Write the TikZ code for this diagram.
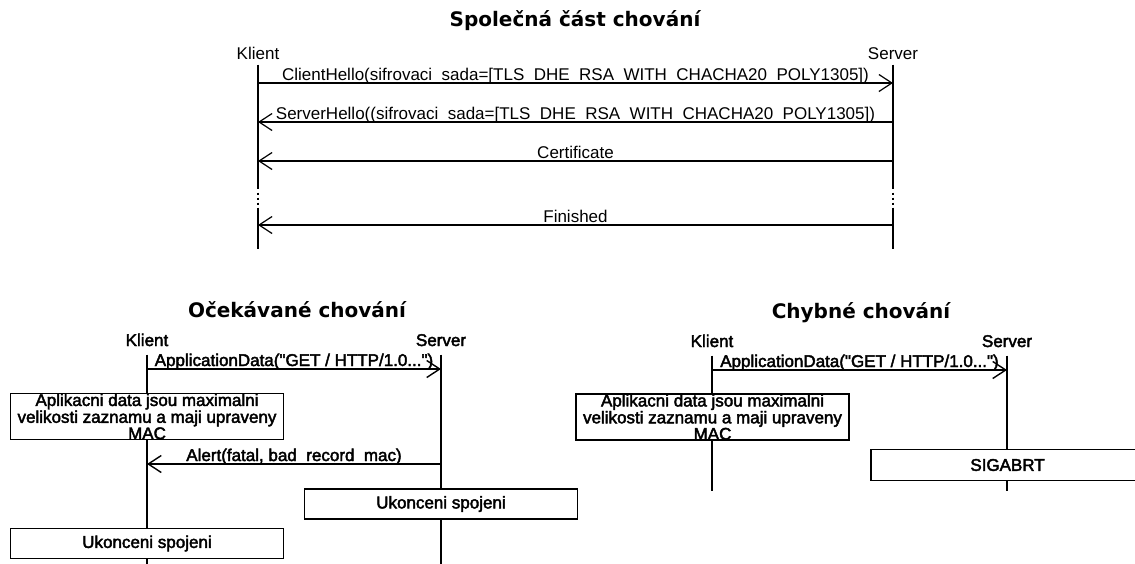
\documentclass[tikz,border=0pt]{standalone}
\usepackage{fontspec}
\setmainfont{Liberation Sans}
\newfontfamily\heavyfont[FakeBold=2.5]{Liberation Sans}
\newfontfamily\titlefont{DejaVu Sans Bold}
\usetikzlibrary{arrows.meta}
\tikzset{
  actor/.style={inner sep=0pt,text height=12pt,text depth=0pt,font=\fontsize{17}{17}\selectfont},
  hactor/.style={actor,font=\heavyfont\fontsize{17}{17}\selectfont},
  msg/.style={-{Straight Barb[length=13pt,width=17pt]}},
  lbl/.style={inner sep=0pt,anchor=base,yshift=3pt,font=\fontsize{17}{17}\selectfont},
  hlbl/.style={lbl,font=\heavyfont\fontsize{17}{17}\selectfont},
  title/.style={font=\titlefont\fontsize{20}{20}\selectfont},
  note/.style={draw,fill=white,minimum width=273pt,inner sep=0pt,align=center,font=\heavyfont\fontsize{17}{12.5}\selectfont},
  life/.style={dash pattern=on 124pt off 4pt on 2pt off 3pt on 2pt off 3pt on 2pt off 3pt on 50pt}
}
\begin{document}
\begin{tikzpicture}[x=1pt,y=-1pt,line width=1.2pt]
\useasboundingbox (0,0) rectangle (1135,563);
\clip (0,0) rectangle (1135,563);

\node[title] (t1) at (575,21) {Společná část chování};
\node[actor] (k1) at (258,53) {Klient};
\node[actor] (s1) at (893,53) {Server};
\coordinate (k1e) at (258,249);
\coordinate (s1e) at (893,249);
\draw[life] ([yshift=-5pt]k1.south) -- (k1e);
\draw[life] ([yshift=-5pt]s1.south) -- (s1e);
\draw[msg] (k1 |- 0,83) -- (s1 |- 0,83) node[lbl,midway] {ClientHello(sifrovaci\_sada=[TLS\_DHE\_RSA\_WITH\_CHACHA20\_POLY1305])};
\draw[msg] (s1 |- 0,122) -- (k1 |- 0,122) node[lbl,midway] {ServerHello((sifrovaci\_sada=[TLS\_DHE\_RSA\_WITH\_CHACHA20\_POLY1305])};
\draw[msg] (s1 |- 0,161) -- (k1 |- 0,161) node[lbl,midway] {Certificate};
\draw[msg] (s1 |- 0,225) -- (k1 |- 0,225) node[lbl,midway] {Finished};

\node[title] (t2) at (297,310) {Očekávané chování};
\node[hactor] (k2) at (147,340) {Klient};
\node[hactor] (s2) at (441,340) {Server};
\coordinate (k2e) at (147,566);
\coordinate (s2e) at (441,566);
\draw[line width=1.4pt] ([yshift=-8pt]k2.south) -- (k2e);
\draw[line width=1.4pt] ([yshift=-8pt]s2.south) -- (s2e);
\draw[msg,line width=1.4pt] (k2 |- 0,369) -- (s2 |- 0,369) node[hlbl,midway] {ApplicationData("GET / HTTP/1.0...")};
\node[note,line width=1.4pt,minimum height=46pt] (n2) at (147,416.5) {Aplikacni data jsou maximalni\\velikosti zaznamu a maji upraveny\\MAC};
\draw[msg,line width=1.4pt] (s2 |- 0,464) -- (k2 |- 0,464) node[hlbl,midway] {Alert(fatal, bad\_record\_mac)};
\node[note,line width=1.4pt,minimum height=30pt] (u2) at (441,504) {Ukonceni spojeni};
\node[note,line width=1.4pt,minimum height=30pt] (u3) at (147,543.5) {Ukonceni spojeni};

\node[title] (t3) at (861,313) {Chybné chování};
\node[hactor] (k3) at (712,341) {Klient};
\node[hactor] (s3) at (1007,341) {Server};
\coordinate (k3e) at (712,491);
\coordinate (s3e) at (1007,491);
\draw[line width=1.4pt] ([yshift=-8pt]k3.south) -- (k3e);
\draw[line width=1.4pt] ([yshift=-8pt]s3.south) -- (s3e);
\draw[msg,line width=1.4pt] (k3 |- 0,370) -- (s3 |- 0,370) node[hlbl,midway] {ApplicationData("GET / HTTP/1.0...")};
\node[note,line width=1.4pt,minimum height=46pt] (n3) at (712.5,417) {Aplikacni data jsou maximalni\\velikosti zaznamu a maji upraveny\\MAC};
\node[note,line width=1.4pt,minimum height=31pt] (sig) at (1007.5,465) {SIGABRT};
\end{tikzpicture}
\end{document}
